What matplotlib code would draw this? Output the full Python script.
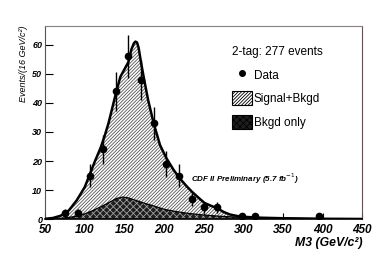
import numpy as np
import matplotlib
matplotlib.use("Agg")
import matplotlib.pyplot as plt
from matplotlib.patches import Patch
from matplotlib.lines import Line2D

plt.rcParams['font.family'] = ['Liberation Sans', 'DejaVu Sans']
plt.rcParams['hatch.linewidth'] = 0.6

# data points (M3 bin centres, events)
m3_data = [75, 91, 107, 123, 139, 155, 171, 187, 203, 219, 235, 251, 267, 299, 315, 395]
n_data = [2, 2, 15, 24, 44, 56, 48, 33, 19, 15, 7, 4, 4, 1, 1, 1]

# signal + background fit
m3_tot = [50, 60, 70, 80, 90, 100, 107, 113, 120, 125, 130, 135, 140, 145, 150, 155,
          159, 162, 164, 166, 168, 171, 175, 180, 187, 195, 203, 212, 220, 228, 235,
          243, 251, 260, 267, 275, 283, 292, 300, 320, 350, 400, 450]
n_tot = [0.1, 0.4, 1.2, 3.0, 6.5, 11.0, 15.8, 20.0, 24.5, 28.5, 33.0, 38.5, 44.0, 49.0,
         51.5, 54.0, 58.5, 60.5, 61.1, 60.8, 59.0, 54.0, 48.0, 41.0, 33.0, 25.5, 21.0,
         17.0, 14.0, 11.5, 9.5, 7.5, 5.6, 4.5, 3.8, 2.5, 1.6, 1.1, 0.8, 0.5, 0.3, 0.12, 0.05]

# background only
m3_bkg = [50, 60, 70, 80, 90, 100, 110, 120, 130, 140, 148, 155, 165, 175, 185, 200,
          215, 230, 250, 270, 290, 310, 350, 400, 450]
n_bkg = [0.0, 0.1, 0.3, 0.6, 1.0, 1.8, 2.9, 4.2, 5.6, 7.1, 7.6, 7.3, 6.4, 5.5, 4.7,
         3.4, 2.6, 2.0, 1.4, 1.0, 0.7, 0.5, 0.3, 0.15, 0.08]

sig_style = dict(facecolor='white', edgecolor='#555555', hatch='//////////')
bkg_style = dict(facecolor='#1e1e1e', edgecolor='#a0a0a0', hatch='xxxxx')

fig = plt.figure(figsize=(3.82, 2.59), dpi=100)
ax = fig.add_axes([0.118, 0.154, 0.83, 0.746])

ax.fill_between(m3_tot, n_tot, 0, linewidth=0, zorder=1, **sig_style)
ax.plot(m3_tot, n_tot, color='black', lw=1.8, zorder=3)
ax.fill_between(m3_bkg, n_bkg, 0, linewidth=0, zorder=2, **bkg_style)
ax.plot(m3_bkg, n_bkg, color='black', lw=0.9, zorder=3)

ax.errorbar(m3_data, n_data, yerr=np.sqrt(n_data), fmt='o', color='black',
            ms=4.5, elinewidth=1.0, capsize=0, zorder=4)

ax.set_xlim(50, 450)
ax.set_ylim(0, 66.5)
ax.set_xticks(range(50, 451, 50))
ax.set_yticks(range(0, 61, 10))
ax.tick_params(direction='in', width=0.8)
ax.tick_params(axis='x', length=4, pad=3.5)
ax.tick_params(axis='y', length=5.5, pad=2)
for lab in ax.get_xticklabels():
    lab.set_fontsize(8.5)
    lab.set_fontweight('bold')
    lab.set_fontstyle('italic')
for lab in ax.get_yticklabels():
    lab.set_fontsize(6.5)
    lab.set_fontweight('bold')
    lab.set_fontstyle('italic')

ax.spines['top'].set_color('#8c7f7f')
ax.spines['right'].set_color('#6b4f4f')
ax.spines['left'].set_color('#555555')
ax.spines['bottom'].set_color('black')
ax.spines['bottom'].set_linewidth(1.2)

ax.set_xlabel('M3 (GeV/c²)', fontsize=8.8, fontweight='bold', fontstyle='italic')
ax.xaxis.set_label_coords(1.0, -0.095)
ax.xaxis.label.set_ha('right')
ax.xaxis.label.set_va('top')
ax.set_ylabel('Events/(16 GeV/c²)', fontsize=6.5, fontstyle='italic')
ax.yaxis.set_label_coords(-0.054, 1.0)
ax.yaxis.label.set_ha('right')

ax.text(0.46, 0.19, r'CDF II Preliminary (5.7 fb$^{-1}$)', transform=ax.transAxes,
        fontsize=5.8, fontweight='bold', fontstyle='italic')

handles = [Line2D([], [], marker='o', color='black', ls='none', ms=4),
           Patch(lw=0.8, **sig_style),
           Patch(lw=0.8, **bkg_style)]
for h in handles[1:]:
    h.set_edgecolor('black')
leg = ax.legend(handles, ['Data', 'Signal+Bkgd', 'Bkgd only'], title='2-tag: 277 events',
                loc='upper left', bbox_to_anchor=(0.57, 0.925), frameon=False,
                fontsize=8.5, title_fontsize=8.5, handlelength=1.7, handleheight=1.45,
                handletextpad=0.15, labelspacing=0.8, borderpad=0)
leg._legend_box.align = 'left'
leg.legend_handles[1].set_hatch('//////////')
leg.legend_handles[2].set_hatch('xxxxx')

fig.savefig('out.png', dpi=100)
